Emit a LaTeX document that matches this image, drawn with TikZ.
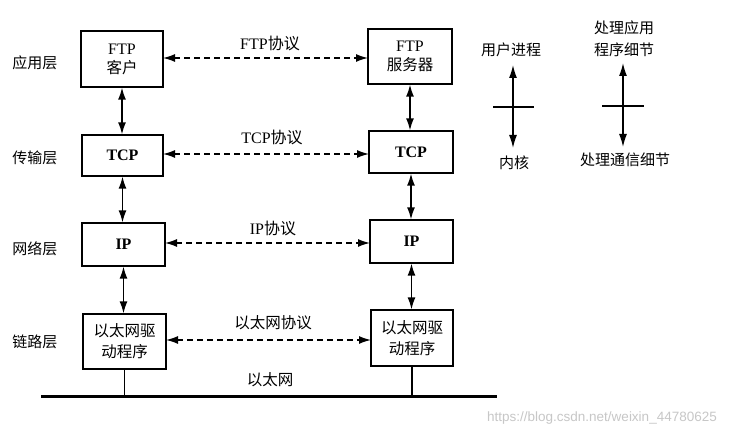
\documentclass[tikz,border=0pt]{standalone}
\usepackage{fontspec}
\setmainfont{Liberation Serif}
\newfontfamily\cjk{Noto Sans CJK SC}
\newfontfamily\wmfont{Liberation Sans}
\usetikzlibrary{arrows.meta}
\begin{document}
\begin{tikzpicture}[x=1pt,y=-1pt,
  box/.style={draw,line width=1.3pt,inner sep=0pt,align=center,font=\fontsize{16}{19}\selectfont},
  lbl/.style={inner sep=0pt,align=center,font=\fontsize{15}{22}\selectfont\cjk},
  plab/.style={inner sep=0pt,font=\fontsize{16}{18}\selectfont},
  biarrow/.style={line width=1.4pt,{Latex[length=12pt,width=8pt]}-{Latex[length=12pt,width=8pt]}},
  dasharrow/.style={biarrow,dash pattern=on 6pt off 4pt},
  onearrow/.style={line width=1.4pt,-{Latex[length=13pt,width=8pt]}}]
\useasboundingbox (0,0) rectangle (748,435);
\fill[white] (0,0) rectangle (748,435);
% layer labels
\node[lbl] (l1) at (35,63) {应用层};
\node[lbl] (l2) at (35,158) {传输层};
\node[lbl] (l3) at (35,249) {网络层};
\node[lbl] (l4) at (35,342) {链路层};
% left column
\node[box,minimum width=82pt,minimum height=56pt] (ftpL) at (122,59) {FTP\\[0pt]{\cjk\fontsize{15.5}{19}\selectfont 客户}};
\node[box,minimum width=81pt,minimum height=41pt,font=\fontsize{16}{19}\selectfont\bfseries] (tcpL) at (122.5,155.5) {TCP};
\node[box,minimum width=83pt,minimum height=43pt,font=\fontsize{16}{19}\selectfont\bfseries] (ipL) at (123.5,244.5) {IP};
\node[box,minimum width=83pt,minimum height=55pt,font=\fontsize{15.5}{21}\selectfont\cjk] (drvL) at (124.5,341.5) {以太网驱\\动程序};
% right column
\node[box,minimum width=84pt,minimum height=55pt] (ftpR) at (410,56.5) {FTP\\[0pt]{\cjk\fontsize{15.5}{19}\selectfont 服务器}};
\node[box,minimum width=84pt,minimum height=42pt,font=\fontsize{16}{19}\selectfont\bfseries] (tcpR) at (411,152) {TCP};
\node[box,minimum width=83pt,minimum height=43pt,font=\fontsize{16}{19}\selectfont\bfseries] (ipR) at (411.5,241.5) {IP};
\node[box,minimum width=82pt,minimum height=56pt,font=\fontsize{15.5}{21}\selectfont\cjk] (drvR) at (412,338) {以太网驱\\动程序};
% vertical arrows
\draw[biarrow] (ftpL.south) -- (ftpL.south |- tcpL.north);
\draw[biarrow] (tcpL.south) -- (tcpL.south |- ipL.north);
\draw[biarrow] (ipL.south) -- (ipL.south |- drvL.north);
\draw[biarrow] (ftpR.south) -- (ftpR.south |- tcpR.north);
\draw[biarrow] (tcpR.south) -- (tcpR.south |- ipR.north);
\draw[biarrow] (ipR.south) -- (ipR.south |- drvR.north);
% protocol dashed arrows
\coordinate (a1) at (163,58);
\coordinate (a2) at (368,58);
\coordinate (b1) at (163,154);
\coordinate (b2) at (369,154);
\coordinate (c1) at (165,243);
\coordinate (c2) at (370,243);
\coordinate (d1) at (166,340);
\coordinate (d2) at (371,340);
\draw[dasharrow] (a1) -- (a2);
\draw[dasharrow] (b1) -- (b2);
\draw[dasharrow] (c1) -- (c2);
\draw[dasharrow] (d1) -- (d2);
\node[plab] (p1) at (270,43) {FTP{\cjk 协议}};
\node[plab] (p2) at (272,137) {TCP{\cjk 协议}};
\node[plab] (p3) at (273,228) {IP{\cjk 协议}};
\node[plab,font=\fontsize{15.5}{18}\selectfont\cjk] (p4) at (273,323) {以太网协议};
% ethernet
\coordinate (eL) at (41,397);
\coordinate (eR) at (497,397);
\draw[line width=3pt] (eL) -- (eR);
\draw[line width=1.3pt] (drvL.south) -- (drvL.south |- eL);
\draw[line width=1.3pt] (drvR.south) -- (drvR.south |- eL);
\node[lbl,font=\fontsize{15.5}{18}\selectfont\cjk] (eth) at (270,380) {以太网};
% legend 1
\node[lbl] (up1) at (511,50) {用户进程};
\node[lbl] (dn1) at (514,163) {内核};
\coordinate (m1) at (513,107);
\coordinate (t1a) at (493,107);
\coordinate (t1b) at (534,107);
\coordinate (u1) at (513,65);
\coordinate (w1) at (513,148);
\draw[line width=1.3pt] (t1a) -- (t1b);
\draw[onearrow] (m1) -- (u1);
\draw[onearrow] (m1) -- (w1);
% legend 2
\node[lbl] (up2) at (624,38.5) {处理应用\\程序细节};
\node[lbl] (dn2) at (625,160) {处理通信细节};
\coordinate (m2) at (623,106);
\coordinate (t2a) at (602,106);
\coordinate (t2b) at (644,106);
\coordinate (u2) at (623,63);
\coordinate (w2) at (623,147);
\draw[line width=1.3pt] (t2a) -- (t2b);
\draw[onearrow] (m2) -- (u2);
\draw[onearrow] (m2) -- (w2);
% watermark
\node[inner sep=0pt,text=black!22,font=\fontsize{13.5}{16}\selectfont\wmfont] (wm) at (602,418) {https://blog.csdn.net/weixin\_44780625};
\end{tikzpicture}
\end{document}
